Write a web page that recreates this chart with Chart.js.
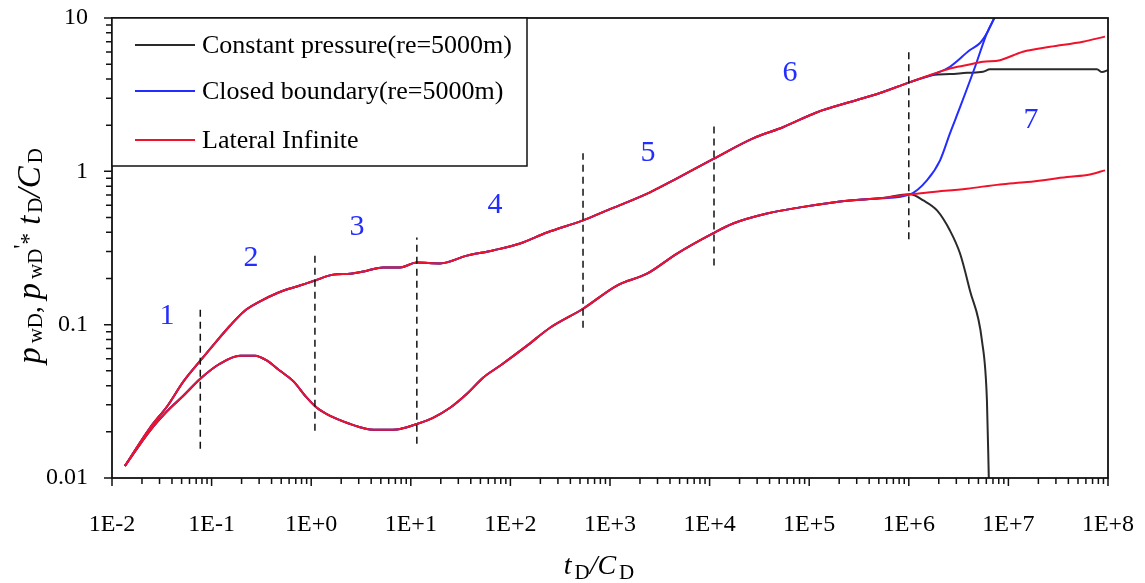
<!DOCTYPE html>
<html lang="en">
<head>
<meta charset="UTF-8">
<title>Type curves - pwD and derivative</title>
<script src="https://cdn.jsdelivr.net/npm/chart.js"></script>
<style>
  html, body { margin: 0; padding: 0; background: #fff; }
  #wrap { width: 1145px; height: 583px; }
</style>
</head>
<body>
<div id="wrap"><canvas id="typeCurve" width="1145" height="583"></canvas></div>
<script>
// ---- data (tD/CD on x, dimensionless pressure / derivative on y) ----
const seriesNames = ['Constant pressure(re=5000m)', 'Closed boundary(re=5000m)', 'Lateral Infinite'];

// lateral infinite: pressure curve
const latPressT = [0.0135, 0.024, 0.036, 0.052, 0.077, 0.113, 0.153, 0.21, 0.29, 0.47, 0.77, 1.09, 1.66, 2.46, 3.63, 5.26, 7.8, 11.5, 19.6, 36.6, 66.8, 125, 233, 536, 933, 2520, 4710, 10800, 27300, 54600, 1.2e5, 2.57e5, 5.14e5, 1.03e6, 1.75e6, 2.59e6, 3.84e6, 5.56e6, 8.24e6, 1.4e7, 2.62e7, 5.61e7, 9.33e7];
const latPressV = [0.012, 0.0212, 0.0295, 0.0425, 0.0582, 0.0785, 0.0984, 0.1216, 0.139, 0.162, 0.180, 0.194, 0.212, 0.215, 0.225, 0.236, 0.236, 0.254, 0.251, 0.282, 0.305, 0.338, 0.399, 0.479, 0.556, 0.73, 0.90, 1.2, 1.64, 1.94, 2.43, 2.83, 3.24, 3.82, 4.31, 4.69, 4.93, 5.18, 5.31, 6.03, 6.49, 7.0, 7.56];

// lateral infinite: derivative curve
const latDerivT = [0.0135, 0.024, 0.036, 0.052, 0.077, 0.121, 0.193, 0.273, 0.36, 0.486, 0.656, 0.908, 1.14, 1.55, 2.46, 3.63, 5.26, 7.8, 11.5, 16.7, 24.8, 36.6, 53.1, 78.7, 147, 250, 536, 1175, 2350, 4710, 10800, 17200, 37700, 80900, 1.73e5, 2.57e5, 5.14e5, 1.03e6, 1.75e6, 3.84e6, 8.24e6, 1.54e7, 3.87e7, 6.59e7, 9.33e7];
const latDerivV = [0.012, 0.0203, 0.0274, 0.0344, 0.0444, 0.0556, 0.0627, 0.0627, 0.0582, 0.050, 0.043, 0.0333, 0.0287, 0.0254, 0.0225, 0.0209, 0.0206, 0.0209, 0.0225, 0.0247, 0.0287, 0.0354, 0.0451, 0.054, 0.073, 0.0955, 0.127, 0.18, 0.215, 0.291, 0.394, 0.457, 0.531, 0.582, 0.627, 0.646, 0.667, 0.708, 0.733, 0.771, 0.822, 0.851, 0.918, 0.955, 1.015];

// boundary-dominated tails (curves coincide with the lateral infinite case before these)
const constPressT = [1.75e6, 2.59e6, 3.84e6, 5.56e6, 6.53e6, 7.74e7, 8.71e7, 1e8];
const constPressV = [4.25, 4.31, 4.39, 4.46, 4.63, 4.63, 4.44, 4.57];
const constDerivT = [1.40e6, 1.92e6, 2.59e6, 3.27e6, 4.11e6, 5.43e6, 6.09e6, 6.38e6];
const constDerivV = [0.646, 0.556, 0.411, 0.291, 0.167, 0.0785, 0.0318, 0.009];

const closedPressT = [1.75e6, 2.59e6, 4.11e6, 5.19e6, 6.09e6, 7.33e6];
const closedPressV = [4.28, 4.81, 6.18, 6.87, 7.98, 10.2];
const closedDerivT = [1.52e6, 2.06e6, 2.59e6, 3.27e6, 4.62e6, 6.09e6, 7.33e6];
const closedDerivV = [0.873, 1.18, 1.77, 2.62, 4.79, 7.98, 10.2];

// flow-regime separators and numbers
const dashT = [0.077, 1.09, 11.5, 536, 11070, 1.0e6];
const dashLo = [0.0155, 0.0203, 0.0167, 0.0955, 0.243, 0.36];
const dashHi = [0.127, 0.282, 0.37, 1.31, 2.03, 6.0];

const regimeText = ['1', '2', '3', '4', '5', '6', '7'];
const regimeT = [0.0356, 0.249, 2.88, 70, 2410, 64100, 1.69e7];
const regimeV = [0.1145, 0.27, 0.43, 0.6, 1.31, 4.37, 2.15];

// axis ticks
const xTickVals = [1e-2, 1e-1, 1e0, 1e1, 1e2, 1e3, 1e4, 1e5, 1e6, 1e7, 1e8];
const xTickLabels = ['1E-2', '1E-1', '1E+0', '1E+1', '1E+2', '1E+3', '1E+4', '1E+5', '1E+6', '1E+7', '1E+8'];
const yTickVals = [0.01, 0.1, 1, 10];
const yTickLabels = ['0.01', '0.1', '1', '10'];

// ---- styling ----
const SERIF = '"Liberation Serif", "Times New Roman", serif';
const BLACK = '#2a2a2a';
const BLUE = 'rgb(35, 45, 255)';
const RED = 'rgb(240, 18, 42)';
const seriesColors = [BLACK, BLUE, RED];

function pts(t, v) { return t.map((x, i) => ({ x: x, y: v[i] })); }
function upTo(t, v, tMax) { return pts(t, v).filter(p => p.x <= tMax); }

const latPress = pts(latPressT, latPressV);
const latDeriv = pts(latDerivT, latDerivV);
const constPress = upTo(latPressT, latPressV, 1.03e6).concat(pts(constPressT, constPressV));
const constDeriv = upTo(latDerivT, latDerivV, 1.03e6).concat(pts(constDerivT, constDerivV));
const closedPress = upTo(latPressT, latPressV, 1.03e6).concat(pts(closedPressT, closedPressV));
const closedDeriv = upTo(latDerivT, latDerivV, 1.03e6).concat(pts(closedDerivT, closedDerivV));

function curve(data, color) {
  return { data: data, borderColor: color, borderWidth: 2, pointRadius: 0, cubicInterpolationMode: 'monotone', fill: false };
}

const datasets = [];
dashT.forEach((t, i) => {
  datasets.push({ data: [{ x: t, y: dashLo[i] }, { x: t, y: dashHi[i] }], borderColor: '#111', borderWidth: 1.5, borderDash: [7, 5], pointRadius: 0 });
});
datasets.push(curve(latPress, RED), curve(latDeriv, RED));
datasets.push(curve(closedPress, BLUE), curve(closedDeriv, BLUE));
datasets.push(curve(constPress, BLACK), curve(constDeriv, BLACK));

// draw mixed italic / subscript strings centred on x
function drawRich(ctx, parts, x, y) {
  let total = 0;
  parts.forEach(p => {
    ctx.font = (p.it ? 'italic ' : '') + p.s + 'px ' + SERIF;
    p.w = ctx.measureText(p.t).width + (p.g || 0);
    total += p.w;
  });
  let cx = x - total / 2;
  ctx.textAlign = 'left';
  ctx.textBaseline = 'alphabetic';
  parts.forEach(p => {
    ctx.font = (p.it ? 'italic ' : '') + p.s + 'px ' + SERIF;
    ctx.fillText(p.t, cx + (p.g || 0), y + (p.dy || 0));
    cx += p.w;
  });
}

const decorations = {
  id: 'decorations',
  afterDraw(chart) {
    const { ctx, chartArea: a, scales: { x, y } } = chart;
    ctx.save();

    // frame
    ctx.strokeStyle = '#111';
    ctx.lineWidth = 1.8;
    ctx.strokeRect(a.left, a.top, a.right - a.left, a.bottom - a.top);

    // log tick marks, outside, major longer
    ctx.lineWidth = 1.5;
    ctx.beginPath();
    for (let e = -2; e <= 8; e++) {
      for (let k = 1; k <= 9; k++) {
        const v = k * Math.pow(10, e);
        if (v > 1.0001e8) break;
        const px = x.getPixelForValue(v);
        ctx.moveTo(px, a.bottom);
        ctx.lineTo(px, a.bottom + (k === 1 ? 8 : 6));
      }
    }
    for (let e = -2; e <= 1; e++) {
      for (let k = 1; k <= 9; k++) {
        const v = k * Math.pow(10, e);
        if (v > 10.0001) break;
        const py = y.getPixelForValue(v);
        ctx.moveTo(a.left, py);
        ctx.lineTo(a.left - (k === 1 ? 8 : 6), py);
      }
    }
    ctx.stroke();

    // flow regime numbers
    ctx.fillStyle = BLUE;
    ctx.font = '30px ' + SERIF;
    ctx.textAlign = 'center';
    ctx.textBaseline = 'middle';
    regimeText.forEach((s, i) => {
      ctx.fillText(s, x.getPixelForValue(regimeT[i]), y.getPixelForValue(regimeV[i]));
    });

    // legend box
    const lx = a.left, ly = a.top, lw = 415, lh = 148;
    ctx.fillStyle = '#fff';
    ctx.fillRect(lx, ly, lw, lh);
    ctx.strokeStyle = '#111';
    ctx.lineWidth = 1.5;
    ctx.strokeRect(lx, ly, lw, lh);
    ctx.font = '26px ' + SERIF;
    ctx.textAlign = 'left';
    ctx.textBaseline = 'middle';
    [27, 73, 122].forEach((yy, i) => {
      ctx.strokeStyle = seriesColors[i];
      ctx.lineWidth = 2;
      ctx.beginPath();
      ctx.moveTo(lx + 23, ly + yy);
      ctx.lineTo(lx + 83, ly + yy);
      ctx.stroke();
      ctx.fillStyle = '#000';
      ctx.fillText(seriesNames[i], lx + 90, ly + yy + 1);
    });

    // axis titles
    ctx.fillStyle = '#000';
    drawRich(ctx, [
      { t: 't', s: 28, it: true },
      { t: 'D', s: 21, dy: 5, g: 3 },
      { t: '/C', s: 28, it: true },
      { t: 'D', s: 21, dy: 5, g: 3 }
    ], 599, 574);

    ctx.translate(40, 256);
    ctx.rotate(-Math.PI / 2);
    drawRich(ctx, [
      { t: 'p', s: 33, it: true },
      { t: 'wD', s: 21, dy: 2, g: 4 },
      { t: ', ', s: 27 },
      { t: 'p', s: 33, it: true },
      { t: 'wD', s: 21, dy: 2, g: 4 },
      { t: "'", s: 23, dy: -11 },
      { t: '*', s: 23, dy: -4 },
      { t: ' t', s: 33, it: true },
      { t: 'D', s: 21, dy: 2, g: 3 },
      { t: '/C', s: 33, it: true },
      { t: 'D', s: 21, dy: 2, g: 3 }
    ], 0, 0);

    ctx.restore();
  }
};

Chart.defaults.font.family = SERIF;
Chart.defaults.color = '#000';

new Chart(document.getElementById('typeCurve'), {
  type: 'line',
  data: { datasets: datasets },
  options: {
    responsive: false,
    animation: false,
    devicePixelRatio: 1,
    layout: { padding: { left: 0, top: 18, right: 37, bottom: 0 } },
    plugins: { legend: { display: false }, tooltip: { enabled: false } },
    scales: {
      x: {
        type: 'logarithmic',
        min: 0.01,
        max: 1e8,
        grid: { display: false, drawTicks: false },
        border: { display: false },
        afterBuildTicks: s => { s.ticks = xTickVals.map(v => ({ value: v })); },
        afterFit: s => { s.height = 105; s.paddingLeft = 0; s.paddingRight = 0; },
        ticks: {
          autoSkip: false,
          maxRotation: 0,
          padding: 32,
          font: { size: 24 },
          callback: (v) => xTickLabels[xTickVals.indexOf(v)]
        }
      },
      y: {
        type: 'logarithmic',
        min: 0.01,
        max: 10,
        grid: { display: false, drawTicks: false },
        border: { display: false },
        afterBuildTicks: s => { s.ticks = yTickVals.map(v => ({ value: v })); },
        afterFit: s => { s.width = 112; s.paddingTop = 0; s.paddingBottom = 0; },
        ticks: {
          autoSkip: false,
          padding: 24,
          font: { size: 24 },
          callback: (v) => yTickLabels[yTickVals.indexOf(v)]
        }
      }
    }
  },
  plugins: [decorations]
});
</script>
</body>
</html>
